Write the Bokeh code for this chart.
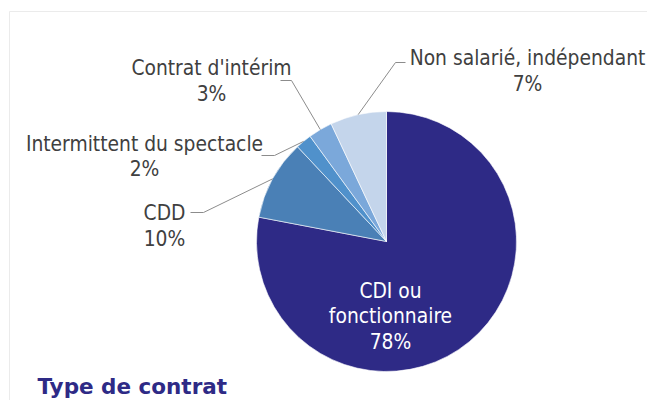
import math
from bokeh.plotting import figure
from bokeh.models import Range1d
from bokeh.core.properties import value
from bokeh.embed import file_html
from bokeh.resources import INLINE

# ---- data ----
categories = ["CDI ou fonctionnaire", "CDD", "Intermittent du spectacle",
              "Contrat d'intérim", "Non salarié, indépendant"]
shares = [78, 10, 2, 3, 7]
colors = ["#2E2A86", "#4A80B6", "#5091CB", "#7BA8DA", "#C4D5EB"]
title_text = "Type de contrat"

# ---- layout (screen px, image coordinates) ----
W, H = 647, 400
cx, cy, R = 386, 241, 130

def Y(sy):
    return H - sy

p = figure(width=W, height=H, output_backend="svg", toolbar_location=None,
           x_range=Range1d(0, W), y_range=Range1d(0, H),
           min_border=0, outline_line_color=None)
p.axis.visible = False
p.grid.visible = False
p.background_fill_color = "white"
p.border_fill_color = "white"

# light frame
p.quad(left=9, right=700, top=Y(11), bottom=-20, fill_color=None,
       line_color="#EBEBEB", line_width=1)

total = sum(shares)
starts, ends, mids = [], [], []
cum = 0
for s in shares:
    a0 = math.pi / 2 - 2 * math.pi * cum / total
    cum += s
    a1 = math.pi / 2 - 2 * math.pi * cum / total
    starts.append(a0)
    ends.append(a1)
    mids.append((a0 + a1) / 2)

p.wedge(x=[cx] * len(shares), y=[Y(cy)] * len(shares), radius=R,
        start_angle=starts, end_angle=ends, direction="clock",
        fill_color=colors, line_color="white", line_width=0.6)

TXT = "#404040"
FONT = value("DejaVu Sans Condensed")
FS = "20.8px"

# outside labels: (index, elbow x, elbow y, end x, label center x, baseline1, baseline2)
outside = [
    (1, 203, 212, 190, 164, 212, 238),
    (2, 274, 155, 261, 144, 143, 168),
    (3, 291, 80, 280, 211, 67, 93),
    (4, 395, 62, 405, 527, 57, 83),
]
for i, ex, ey, endx, lx, b1, b2 in outside:
    m = mids[i]
    sx0 = cx + R * math.cos(m)
    sy0 = cy - R * math.sin(m)
    p.line(x=[sx0, ex, endx], y=[Y(sy0), Y(ey), Y(ey)],
           line_color="#8C8C8C", line_width=1)
    p.text(x=[lx, lx], y=[Y(b1), Y(b2)],
           text=[categories[i], f"{shares[i]}%"],
           text_font=FONT, text_font_size=FS, text_color=TXT,
           text_align="center", text_baseline="alphabetic")

# inside label for CDI
words = categories[0].split(" ")
p.text(x=[390, 390, 390], y=[Y(290), Y(315), Y(341)],
       text=[" ".join(words[:2]), words[2], f"{shares[0]}%"],
       text_font=FONT, text_font_size=FS, text_color="white",
       text_align="center", text_baseline="alphabetic")

# title
p.text(x=[37], y=[Y(386)], text=[title_text], text_font=value("DejaVu Sans"),
       text_font_size="21.5px", text_font_style="bold", text_color="#2E2A86",
       text_align="left", text_baseline="alphabetic")

open("out.html", "w").write(file_html(p, INLINE))
